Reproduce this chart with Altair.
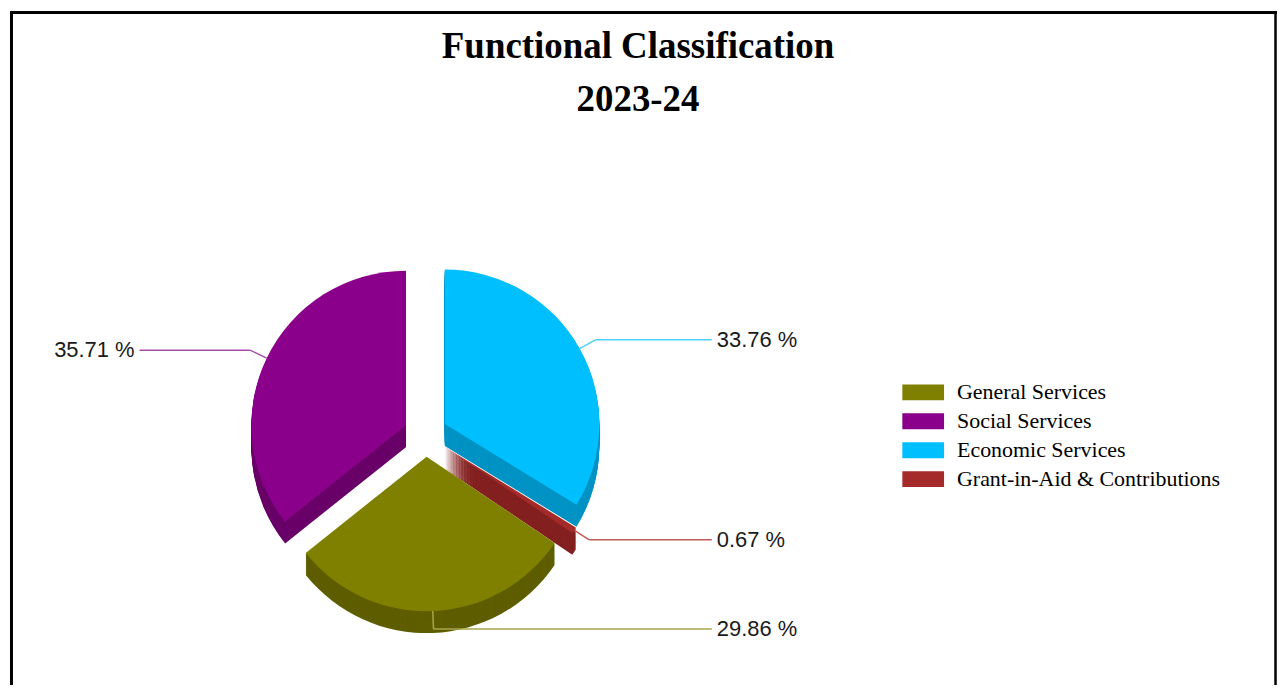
import math
import altair as alt
import pandas as pd

# ---- data ----
categories = ["General Services", "Social Services", "Economic Services", "Grant-in-Aid & Contributions"]
shares = [29.86, 35.71, 33.76, 0.67]
pie_order = [3, 4, 1, 2]          # clockwise from 12 o'clock
title_lines = ["Functional Classification", "2023-24"]

# ---- styles ----
top_colors = ["#808000", "#8B008B", "#00BFFF", "#A52A2A"]
side_colors = ["#5E5E00", "#690069", "#0093C4", "#842020"]
line_colors = ["#A6A64D", "#A64DA6", "#4DCFFF", "#C25A5A"]

W, H = 1271, 676
CX, CY = 417, 425
R = 155
EXPLODE = 22
DEPTH = 22
ELBOW = 18
LCOL = 292

df = pd.DataFrame({"category": categories, "share": shares, "order": pie_order})

base = (
    alt.Chart(df)
    .transform_joinaggregate(total="sum(share)")
    .transform_window(cum="sum(share)", sort=[alt.SortField("order")], frame=[None, 0])
    .transform_calculate(
        start="(datum.cum - datum.share) / datum.total",
        end="datum.cum / datum.total",
        mid="2 * PI * (datum.cum - datum.share / 2) / datum.total",
    )
    .transform_calculate(
        s="sin(datum.mid)",
        c="cos(datum.mid)",
    )
    .transform_calculate(
        px=f"{CX} + {EXPLODE} * datum.s",
        py=f"{CY} - {EXPLODE} * datum.c",
    )
    .transform_calculate(
        ex=f"datum.px + {R} * datum.s",
        ey=f"datum.py - {R} * datum.c",
        bx=f"datum.px + {R + ELBOW} * datum.s",
        by=f"datum.py - {R + ELBOW} * datum.c",
        side="datum.s >= 0 ? 1 : -1",
    )
    .transform_calculate(
        lx=f"{CX} + datum.side * {LCOL}",
        ax=f"{CX} + datum.side * {LCOL - 5}",
        label="format(datum.share, '.2f') + ' %'",
    )
)

theta_enc = alt.Theta("start:Q", scale=alt.Scale(domain=[0, 1], range=[0, 2 * math.pi]))
theta2_enc = alt.Theta2("end:Q")
x_enc = alt.X("px:Q", scale=None)
y_enc = alt.Y("py:Q", scale=None)

# secondary scales list the categories in reverse so they are kept apart from the legend's scale
rev_cats = list(reversed(categories))

side_layers = []
for k in range(DEPTH, 0, -1):
    side_layers.append(
        base.mark_arc(radius=R, yOffset=k).encode(
            theta=theta_enc,
            theta2=theta2_enc,
            x=x_enc,
            y=y_enc,
            fill=alt.Fill("category:N",
                          scale=alt.Scale(domain=rev_cats, range=list(reversed(side_colors))),
                          legend=None),
        )
    )

top = base.mark_arc(radius=R).encode(
    theta=theta_enc,
    theta2=theta2_enc,
    x=x_enc,
    y=y_enc,
    color=alt.Color(
        "category:N",
        scale=alt.Scale(domain=categories, range=top_colors),
        legend=alt.Legend(
            title=None,
            orient="none",
            legendX=895,
            legendY=368,
            symbolType="M-1,-0.38H1V0.38H-1Z",
            symbolSize=1764,
            symbolStrokeWidth=0,
            symbolOpacity=1,
            labelFont="Liberation Serif",
            labelFontSize=22,
            labelColor="black",
            labelOffset=13,
            labelLimit=400,
            clipHeight=29,
            rowPadding=0,
            padding=0,
        ),
    ),
)

stroke_enc = alt.Stroke("category:N",
                        scale=alt.Scale(domain=rev_cats, range=list(reversed(line_colors))),
                        legend=None)

lead1 = base.mark_rule(strokeWidth=1.5).encode(
    x=alt.X("ex:Q", scale=None), y=alt.Y("ey:Q", scale=None),
    x2="bx:Q", y2="by:Q", stroke=stroke_enc,
)
lead2 = base.mark_rule(strokeWidth=1.5).encode(
    x=alt.X("bx:Q", scale=None), y=alt.Y("by:Q", scale=None),
    x2="ax:Q", y2="by:Q", stroke=stroke_enc,
)

label_right = base.transform_filter("datum.side > 0").mark_text(
    align="left", baseline="middle", font="Liberation Sans", fontSize=22, color="#1a1a1a"
).encode(x=alt.X("lx:Q", scale=None), y=alt.Y("by:Q", scale=None), text="label:N")

label_left = base.transform_filter("datum.side < 0").mark_text(
    align="right", baseline="middle", font="Liberation Sans", fontSize=22, color="#1a1a1a"
).encode(x=alt.X("lx:Q", scale=None), y=alt.Y("by:Q", scale=None), text="label:N")

tdf1 = pd.DataFrame({"t": [title_lines[0]]})
tdf2 = pd.DataFrame({"t": [title_lines[1]]})
title1 = alt.Chart(tdf1).mark_text(
    font="Liberation Serif", fontSize=37, fontWeight="bold", color="black", baseline="alphabetic"
).encode(text="t:N", x=alt.value(630), y=alt.value(47))
title2 = alt.Chart(tdf2).mark_text(
    font="Liberation Serif", fontSize=37, fontWeight="bold", color="black", baseline="alphabetic"
).encode(text="t:N", x=alt.value(630), y=alt.value(100))

frame_left = alt.Chart(tdf1).mark_rule(color="black", strokeWidth=3).encode(
    x=alt.value(1.5), y=alt.value(0), y2=alt.value(H))
frame_top = alt.Chart(tdf1).mark_rule(color="black", strokeWidth=3).encode(
    x=alt.value(0), x2=alt.value(W), y=alt.value(1.5))
frame_right = alt.Chart(tdf1).mark_rule(color="black", strokeWidth=2.5).encode(
    x=alt.value(W - 1.5), y=alt.value(0), y2=alt.value(H))

chart = alt.layer(
    *side_layers, top, lead1, lead2, label_right, label_left, title1, title2,
    frame_left, frame_top, frame_right,
).properties(width=W, height=H, padding=0).configure_view(stroke=None)

chart.save("out.html", embed_options={"renderer": "svg", "actions": False})
